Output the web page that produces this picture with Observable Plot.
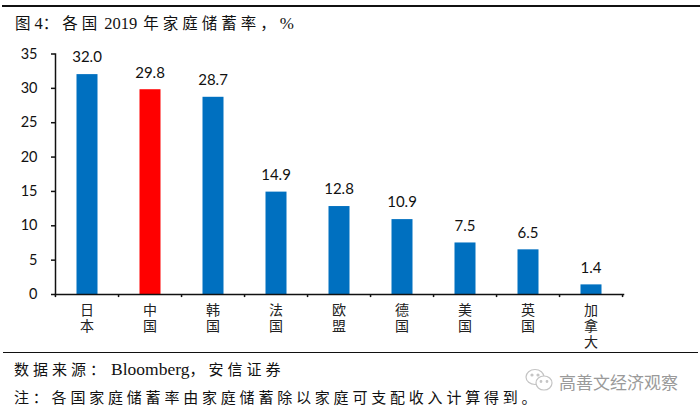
<!DOCTYPE html>
<html><head><meta charset="utf-8">
<script src="https://cdn.jsdelivr.net/npm/d3@7"></script>
<script src="https://cdn.jsdelivr.net/npm/@observablehq/plot@0.6"></script>
<style>
html,body{margin:0;padding:0;background:#fff;width:700px;height:412px;overflow:hidden}
#wrap{position:relative;width:700px;height:412px}
#wrap svg.chart{position:absolute;left:0;top:0}
.t{position:absolute;white-space:nowrap;font-family:"Liberation Serif","Noto Sans CJK SC",serif;color:#111;font-size:15px;letter-spacing:4px}
.t b{font-weight:normal;letter-spacing:0;font-size:16.5px}
.line{position:absolute;background:#111}
</style></head>
<body><div id="wrap">
<div class="line" style="left:2px;top:5px;width:698px;height:2px"></div>
<div class="t" id="title" style="left:15px;top:11px;font-size:15.5px;letter-spacing:4px">图<b>4</b>：各国<b style="margin:0 6px 0 3px">2019</b>年家庭储蓄率，<b style="font-size:17px">%</b></div>
<div class="line" style="left:3px;top:352px;width:695px;height:1px"></div>
<div class="t" id="src" style="left:14px;top:358px">数据来源：<b style="font-size:17.5px;margin-left:2px">Bloomberg</b>，安信证券</div>
<div class="t" id="note" style="left:14px;top:386px;letter-spacing:3.8px">注：各国家庭储蓄率由家庭储蓄除以家庭可支配收入计算得到。</div>
<svg style="position:absolute;left:525px;top:367px" width="30" height="26" viewBox="0 0 30 26" fill="none" stroke="#c4c4c4" stroke-width="1.2">
<ellipse cx="10" cy="10" rx="9" ry="7.5"/><ellipse cx="19" cy="16" rx="8" ry="7" fill="#fff"/>
<circle cx="7" cy="8" r="1" fill="#c4c4c4"/><circle cx="13" cy="8" r="1" fill="#c4c4c4"/><circle cx="16" cy="14.5" r=".8" fill="#c4c4c4"/><circle cx="22" cy="14.5" r=".8" fill="#c4c4c4"/>
</svg>
<div class="t" id="wm" style="left:559px;top:369px;font-family:'Noto Sans CJK SC';font-size:17px;letter-spacing:0;color:#9a9a9a">高善文经济观察</div>
</div>
<script>
const categories = ["日本","中国","韩国","法国","欧盟","德国","美国","英国","加拿大"];
const values = [32.0,29.8,28.7,14.9,12.8,10.9,7.5,6.5,1.4];
const highlight = "中国";
const yTicks = [0,5,10,15,20,25,30,35];
const table = categories.map((c,i)=>({c,v:values[i]}));
const W=700,H=412,mL=55,mR=77,mT=53.5,mB=118;
const step=(W-mL-mR)/categories.length;
const font='"Lato","Noto Sans CJK SC",sans-serif';
const plot = Plot.plot({
  width:W,height:H,marginLeft:mL,marginRight:mR,marginTop:mT,marginBottom:mB,
  style:{background:"transparent",fontFamily:font,fontSize:"14px",color:"#111",overflow:"visible"},
  x:{domain:categories,paddingInner:0.66,paddingOuter:0.33,label:null},
  y:{domain:[0,35],ticks:yTicks,label:null},
  marks:[
    Plot.barY(table,{x:"c",y:"v",fill:d=>d.c===highlight?"#ff0000":"#0070c0",dx:0.5}),
    Plot.frame({anchor:"left",stroke:"#111",strokeWidth:1.5}),
    Plot.frame({anchor:"bottom",stroke:"#111",strokeWidth:1.5}),
    Plot.axisY({ticks:yTicks,tickSize:4,tickPadding:14,stroke:"#111",strokeWidth:1.5,fontSize:14.5,fill:"#111",label:null}),
    Plot.axisX({tickSize:0,tickPadding:9,fontSize:14,fill:"#222",lineHeight:1.14,label:null,textOverflow:null,lineWidth:Infinity,
      tickFormat:d=>[...d].join("\n"),fontFamily:'"Noto Sans CJK SC"'}),
    Plot.ruleX(categories,{x:d=>d,dx:step/2,y1:0,y2:-0.45,stroke:"#111",strokeWidth:1.5}),
    Plot.ruleX(categories.slice(0,1),{x:d=>d,dx:-step/2,y1:0,y2:-0.45,stroke:"#111",strokeWidth:1.5}),
    Plot.text(table,{x:"c",y:"v",text:d=>d.v.toFixed(1),dy:-17,fontSize:15,fill:"#111"})
  ]
});
plot.classList.add("chart");
document.getElementById("wrap").prepend(plot);
</script></body></html>
